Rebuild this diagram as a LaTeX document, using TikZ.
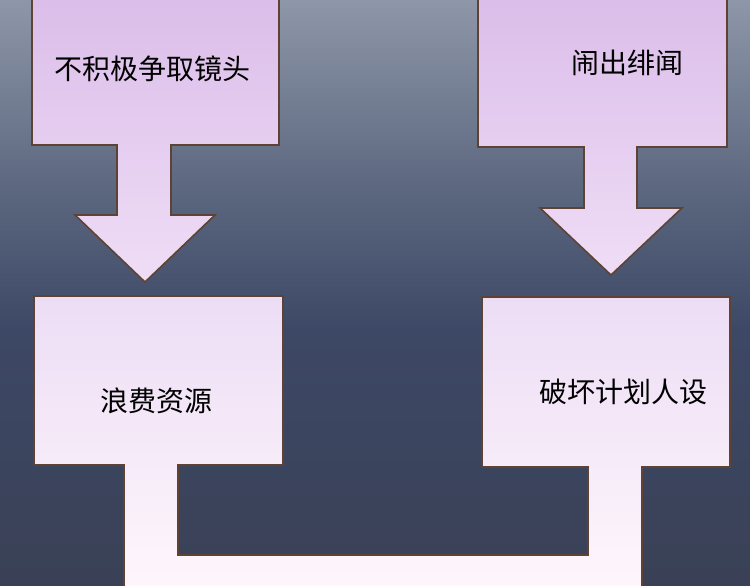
\documentclass[tikz,border=0pt]{standalone}
\usepackage{fontspec}
\newfontfamily\cjk{Noto Sans CJK SC}
\definecolor{edge}{HTML}{5E4334}
\definecolor{bgA}{HTML}{8E97A8}
\definecolor{bgB}{HTML}{59647D}
\definecolor{bgC}{HTML}{3D4866}
\definecolor{bgD}{HTML}{3A4156}
\definecolor{purA}{HTML}{DBBDE9}
\definecolor{purB}{HTML}{EFDDF6}
\definecolor{pinkA}{HTML}{ECDDF5}
\definecolor{pinkB}{HTML}{FFF7FC}
\begin{document}
\begin{tikzpicture}[x=1pt,y=-1pt,
	flowbox/.style={draw=edge,line width=1.6pt,line join=miter},
	lbl/.style={font=\cjk\fontsize{28}{31}\selectfont,text=black,inner sep=0pt}]
		\useasboundingbox (0,0) rectangle (750,586);
		\clip (0,0) rectangle (750,586);
		\fill[top color=bgA,bottom color=bgB] (0,0) rectangle (750,201);
		\fill[top color=bgB,bottom color=bgC] (0,200) rectangle (750,331);
		\fill[top color=bgC,bottom color=bgD] (0,330) rectangle (750,586);
		\draw[flowbox,top color=purA,bottom color=purB] (32,-5) -- (32,145) -- (117,145) -- (117,215) -- (75,215) -- (145,282) -- (215,215) -- (171,215) -- (171,145) -- (279,145) -- (279,-5) -- cycle;
		\draw[flowbox,top color=purA,bottom color=purB] (478,-5) -- (478,147) -- (584,147) -- (584,208) -- (540,208) -- (611,275) -- (682,208) -- (637,208) -- (637,147) -- (727,147) -- (727,-5) -- cycle;
		\draw[flowbox,top color=pinkA,bottom color=pinkB] (124,600) -- (124,465) -- (34,465) -- (34,296) -- (283,296) -- (283,465) -- (178,465) -- (178,555) -- (588,555) -- (588,467) -- (482,467) -- (482,297) -- (730,297) -- (730,467) -- (642,467) -- (642,600) -- cycle;
		\node[lbl] (scene) at (152,69) {不积极争取镜头};
		\node[lbl] (gossip) at (627,63) {闹出绯闻};
		\node[lbl] (waste) at (156,401) {浪费资源};
		\node[lbl] (persona) at (623,392) {破坏计划人设};
\end{tikzpicture}
\end{document}
